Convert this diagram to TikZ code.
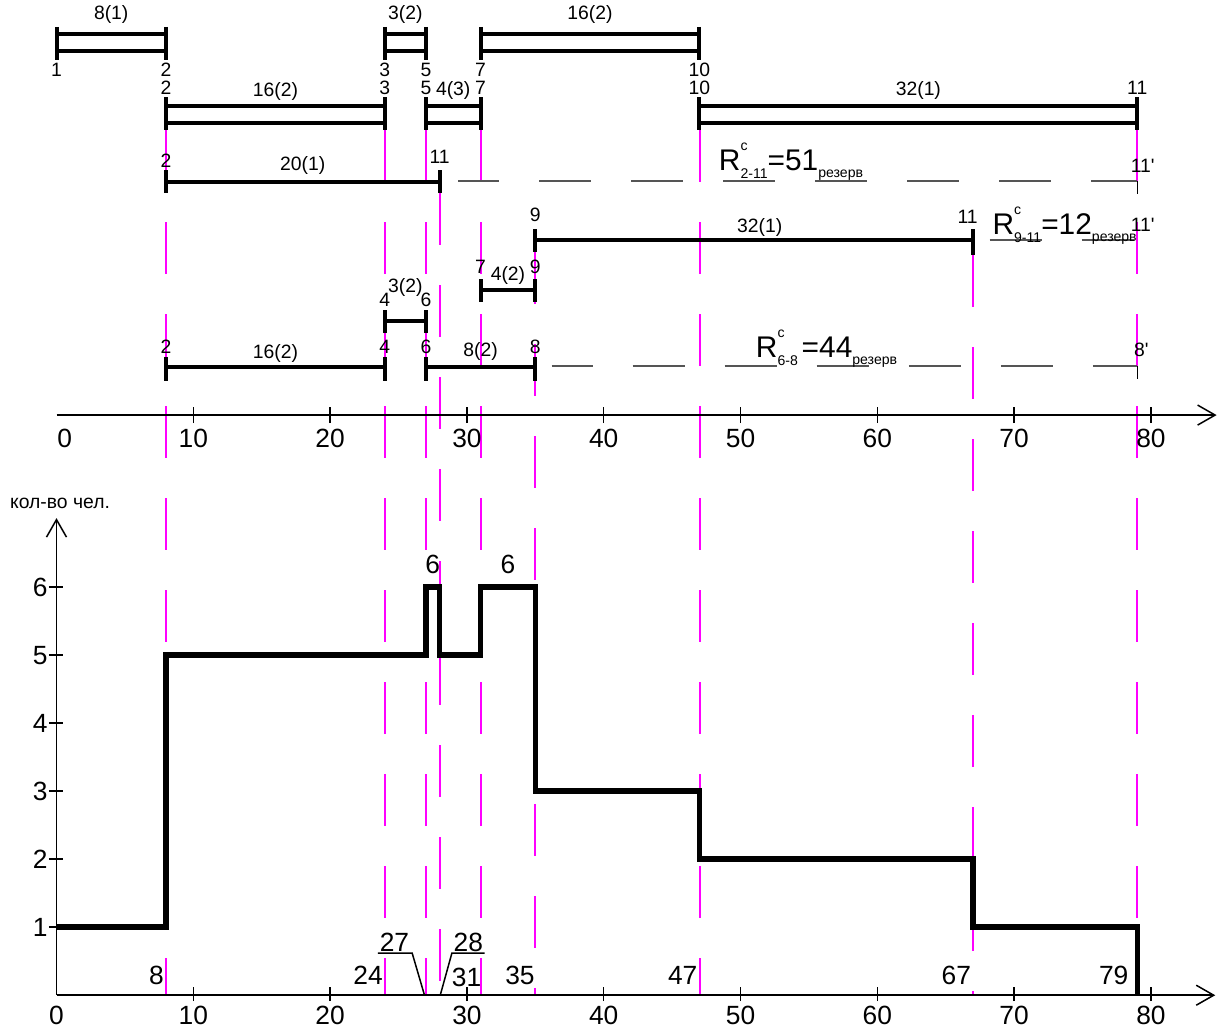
\documentclass[tikz,border=0pt]{standalone}
\usepackage{fontspec}
\setmainfont{Liberation Sans}
\usetikzlibrary{arrows.meta}

\definecolor{guide}{RGB}{255,0,255}
\definecolor{sparegray}{RGB}{85,85,85}

\tikzset{
  dbar/.style={line width=0.8mm},
  mline/.style={guide, line width=0.4mm, dash pattern=on 10.4mm off 8mm},
  spare/.style={sparegray, line width=0.4mm, dash pattern=on 10.4mm off 8mm},
  axis/.style={line width=0.3mm, -{Straight Barb[length=3.5mm,width=4mm]}},
  lbl/.style={font=\fontsize{11}{12}\selectfont, inner sep=1pt},
  bignum/.style={font=\fontsize{15}{17}\selectfont, inner sep=1pt},
  rlab/.style={font=\fontsize{17}{19}\selectfont, inner sep=0pt, anchor=base west},
  crew/.style={line width=1.1mm, line join=miter}
}

\newcommand{\rzv}[2]{R\rlap{\raisebox{11pt}{\fontsize{8}{8}\selectfont c}}\raisebox{-5pt}{\fontsize{8}{8}\selectfont #1}=#2\raisebox{-4pt}{\fontsize{8}{8}\selectfont резерв}}

\begin{document}
\begin{tikzpicture}[x=0.2736cm, y=0.02cm]
    \useasboundingbox (-4.13,-34) rectangle (85.56,995);

    % magenta guide lines
    \draw[mline] (8,865) -- (8,0);
    \draw[mline] (24,865) -- (24,0);
    \draw[mline] (27,865) -- (27,0);
    \draw[mline] (28.03,802) -- (28.03,0);
    \draw[mline] (31,865) -- (31,0);
    \draw[mline] (35,743) -- (35,0);
    \draw[mline] (47.03,865) -- (47.03,0);
    \draw[mline] (67,740) -- (67,0);
    \draw[mline] (79,865) -- (79,0);

    % row 1
    \draw[dbar] (0,961) -- (8,961);
    \draw[dbar] (0,944) -- (8,944);
    \draw[dbar] (0,968) -- (0,935);
    \draw[dbar] (8,968) -- (8,935);
    \draw[dbar] (24,961) -- (27,961);
    \draw[dbar] (24,944) -- (27,944);
    \draw[dbar] (24,968) -- (24,935);
    \draw[dbar] (27,968) -- (27,935);
    \draw[dbar] (31,961) -- (47,961);
    \draw[dbar] (31,944) -- (47,944);
    \draw[dbar] (31,968) -- (31,935);
    \draw[dbar] (47,968) -- (47,935);
    \node[lbl] (w12) at (4,980) {8(1)};
    \node[lbl] (w35) at (25.5,980) {3(2)};
    \node[lbl] (w710) at (39,980) {16(2)};
    \node[lbl] (a1) at (0,925) {1};
    \node[lbl] (a2) at (8,925) {2};
    \node[lbl] (a3) at (24,925) {3};
    \node[lbl] (a5) at (27,925) {5};
    \node[lbl] (a7) at (31,925) {7};
    \node[lbl] (a10) at (47,925) {10};

    % row 2
    \draw[dbar] (8,889) -- (24,889);
    \draw[dbar] (8,872) -- (24,872);
    \draw[dbar] (8,898) -- (8,865);
    \draw[dbar] (24,898) -- (24,865);
    \draw[dbar] (27,889) -- (31,889);
    \draw[dbar] (27,872) -- (31,872);
    \draw[dbar] (27,898) -- (27,865);
    \draw[dbar] (31,898) -- (31,865);
    \draw[dbar] (47,889) -- (79,889);
    \draw[dbar] (47,872) -- (79,872);
    \draw[dbar] (47,898) -- (47,865);
    \draw[dbar] (79,898) -- (79,865);
    \node[lbl] (b2) at (8,907) {2};
    \node[lbl] (b3) at (24,907) {3};
    \node[lbl] (b5) at (27,907) {5};
    \node[lbl] (b7) at (31,907) {7};
    \node[lbl] (b10) at (47,907) {10};
    \node[lbl] (b11) at (79,907) {11};
    \node[lbl] (w23) at (16,904) {16(2)};
    \node[lbl] (w57) at (29,905) {4(3)};
    \node[lbl] (w1011) at (63,905) {32(1)};

    % row 3
    \draw[dbar] (8,813) -- (28,813);
    \draw[dbar] (8,825) -- (8,802);
    \draw[dbar] (28,825) -- (28,802);
    \draw[spare, dash phase=2.2mm] (29.35,814) -- (79,814);
    \draw[line width=0.3mm] (79,814) -- (79,801);
    \node[lbl] (c2) at (8,834) {2};
    \node[lbl] (c11) at (28,838) {11};
    \node[lbl] (w211) at (18,830) {20(1)};
    \node[lbl] (c11p) at (79.4,829) {11\textquotesingle};
    \node[rlab] (r211) at (48.4,825) {\rzv{2-11}{51}};

    % row 4
    \draw[dbar] (35,755) -- (67,755);
    \draw[dbar] (35,766) -- (35,743);
    \draw[dbar] (67,766) -- (67,740);
    \draw[spare] (68.2,755) -- (79,755);
    \node[lbl] (d9) at (35,780) {9};
    \node[lbl] (d11) at (66.6,778) {11};
    \node[lbl] (w911) at (51.4,768) {32(1)};
    \node[lbl] (d11p) at (79.4,770) {11\textquotesingle};
    \node[rlab] (r911) at (68.4,761) {\rzv{9-11}{12}};

    % row 5
    \draw[dbar] (31,705) -- (35,705);
    \draw[dbar] (31,716) -- (31,693);
    \draw[dbar] (35,716) -- (35,693);
    \node[lbl] (e7) at (31,728) {7};
    \node[lbl] (e9) at (35,728) {9};
    \node[lbl] (w79) at (33,720) {4(2)};

    % row 6
    \draw[dbar] (24,674) -- (27,674);
    \draw[dbar] (24,685) -- (24,662);
    \draw[dbar] (27,685) -- (27,662);
    \node[lbl] (f4) at (24,695) {4};
    \node[lbl] (f6) at (27,695) {6};
    \node[lbl] (w46) at (25.5,708) {3(2)};

    % row 7
    \draw[dbar] (8,628) -- (24,628);
    \draw[dbar] (8,638) -- (8,614);
    \draw[dbar] (24,638) -- (24,614);
    \draw[dbar] (27,628) -- (35,628);
    \draw[dbar] (27,638) -- (27,614);
    \draw[dbar] (35,638) -- (35,614);
    \draw[spare, dash phase=2.2mm] (36.2,629) -- (79,629);
    \draw[line width=0.3mm] (79,629) -- (79,616);
    \node[lbl] (g2) at (8,648) {2};
    \node[lbl] (g4) at (24,648) {4};
    \node[lbl] (g6) at (27,648) {6};
    \node[lbl] (g8) at (35,648) {8};
    \node[lbl] (w24) at (16,642) {16(2)};
    \node[lbl] (w68) at (31,644) {8(2)};
    \node[lbl] (g8p) at (79.3,645) {8\textquotesingle};
    \node[rlab] (r68) at (51.1,638) {\rzv{6-8\ }{44}};

    % time axis
    \draw[axis] (0,580) -- (84.8,580);
    \draw[line width=0.3mm] (10,572) -- (10,588);
    \draw[line width=0.3mm] (20,572) -- (20,588);
    \draw[line width=0.3mm] (30,572) -- (30,588);
    \draw[line width=0.3mm] (40,572) -- (40,588);
    \draw[line width=0.3mm] (50,572) -- (50,588);
    \draw[line width=0.3mm] (60,572) -- (60,588);
    \draw[line width=0.3mm] (70,572) -- (70,588);
    \draw[line width=0.3mm] (80,572) -- (80,588);
    \node[bignum] (u0) at (0.6,557) {0};
    \node[bignum] (u10) at (10,557) {10};
    \node[bignum] (u20) at (20,557) {20};
    \node[bignum] (u30) at (30,557) {30};
    \node[bignum] (u40) at (40,557) {40};
    \node[bignum] (u50) at (50,557) {50};
    \node[bignum] (u60) at (60,557) {60};
    \node[bignum] (u70) at (70,557) {70};
    \node[bignum] (u80) at (80,557) {80};

    % people chart
    \draw[axis] (0,0) -- (84.7,0);
    \draw[axis] (0,0) -- (0,477);
    \node[lbl] (ylab) at (0.26,492) {кол-во чел.};
    \draw[line width=0.3mm] (10,-6) -- (10,8);
    \draw[line width=0.3mm] (20,-6) -- (20,8);
    \draw[line width=0.3mm] (30,-6) -- (30,8);
    \draw[line width=0.3mm] (40,-6) -- (40,8);
    \draw[line width=0.3mm] (50,-6) -- (50,8);
    \draw[line width=0.3mm] (60,-6) -- (60,8);
    \draw[line width=0.3mm] (70,-6) -- (70,8);
    \draw[line width=0.3mm] (80,-6) -- (80,8);
    \node[bignum] (l0) at (0,-20) {0};
    \node[bignum] (l10) at (10,-20) {10};
    \node[bignum] (l20) at (20,-20) {20};
    \node[bignum] (l30) at (30,-20) {30};
    \node[bignum] (l40) at (40,-20) {40};
    \node[bignum] (l50) at (50,-20) {50};
    \node[bignum] (l60) at (60,-20) {60};
    \node[bignum] (l70) at (70,-20) {70};
    \node[bignum] (l80) at (80,-20) {80};

    \begin{scope}[yscale=68]
        \draw[line width=0.3mm] (-0.55,1) -- (0.45,1);
        \draw[line width=0.3mm] (-0.55,2) -- (0.45,2);
        \draw[line width=0.3mm] (-0.55,3) -- (0.45,3);
        \draw[line width=0.3mm] (-0.55,4) -- (0.45,4);
        \draw[line width=0.3mm] (-0.55,5) -- (0.45,5);
        \draw[line width=0.3mm] (-0.55,6) -- (0.45,6);
        \node[bignum, anchor=east] (p1) at (-0.5,1) {1};
        \node[bignum, anchor=east] (p2) at (-0.5,2) {2};
        \node[bignum, anchor=east] (p3) at (-0.5,3) {3};
        \node[bignum, anchor=east] (p4) at (-0.5,4) {4};
        \node[bignum, anchor=east] (p5) at (-0.5,5) {5};
        \node[bignum, anchor=east] (p6) at (-0.5,6) {6};
        \draw[crew] (0,1) -- (8,1) -- (8,5) -- (27,5) -- (27,6) -- (28,6) -- (28,5)
            -- (31,5) -- (31,6) -- (35,6) -- (35,3) -- (47,3) -- (47,2)
            -- (67,2) -- (67,1) -- (79,1) -- (79,0);
        \node[bignum] (s1) at (27.5,6.33) {6};
        \node[bignum] (s2) at (33,6.33) {6};
    \end{scope}

    % day marks under the chart
    \node[bignum, anchor=east] (m8) at (8,20) {8};
    \node[bignum, anchor=east] (m24) at (24,20) {24};
    \node[bignum, anchor=east] (m31) at (31.2,18) {31};
    \node[bignum, anchor=east] (m35) at (35.1,20) {35};
    \node[bignum, anchor=east] (m47) at (47,20) {47};
    \node[bignum, anchor=east] (m67) at (67,20) {67};
    \node[bignum, anchor=east] (m79) at (78.5,20) {79};
    \node[bignum] (m27) at (24.7,53) {27};
    \node[bignum] (m28) at (30.1,53) {28};
    \draw[line width=0.3mm] (23.5,42) -- (26,42) -- (26.9,0);
    \draw[line width=0.3mm] (31.3,42) -- (28.9,42) -- (28.05,0);
\end{tikzpicture}
\end{document}
